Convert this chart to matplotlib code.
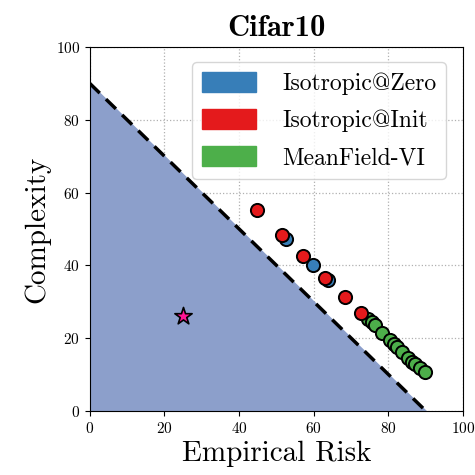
import numpy as np
import matplotlib
matplotlib.use('Agg')
import matplotlib.pyplot as plt
from matplotlib.patches import Patch

plt.rcParams['font.family'] = 'serif'
plt.rcParams['font.serif'] = ['cmr10']
plt.rcParams['mathtext.fontset'] = 'cm'
plt.rcParams['axes.formatter.use_mathtext'] = True

# data
bound = 90
zero_risk = [52.5, 59.8, 63.8]
zero_comp = [47.3, 40.1, 36.0]
init_risk = [44.8, 51.5, 57.1, 63.0, 68.4, 72.7]
init_comp = [55.2, 48.4, 42.5, 36.6, 31.2, 26.9]
mf_risk = [74.5, 75.5, 76.4, 78.3, 80.4, 81.5, 82.3, 83.6, 85.3, 86.4, 87.1, 88.5, 89.8]
mf_comp = [25.3, 24.4, 23.6, 21.5, 19.6, 18.4, 17.6, 16.3, 14.6, 13.5, 12.8, 11.7, 10.6]
star_x, star_y = 25, 26

fig = plt.figure(figsize=(4.75, 4.75), dpi=100)
ax = fig.add_axes([0.189, 0.135, 0.786, 0.766])

bx = np.array([0, bound])
by = bound - bx
ax.fill_between(bx, 0, by, color='#8c9fcb', zorder=1)
ax.plot(bx, by, 'k--', lw=2.5, dashes=(4, 2.5), zorder=2)

kw = dict(s=90, edgecolors='black', linewidths=1.4, zorder=3)
ax.scatter(zero_risk, zero_comp, c='#377eb8', **kw)
ax.scatter(mf_risk, mf_comp, c='#4daf4a', **kw)
ax.scatter(init_risk, init_comp, c='#e41a1c', **kw)
ax.scatter([star_x], [star_y], marker='*', s=170, c='#ff1493',
           edgecolors='black', linewidths=1.2, zorder=4)

ax.set_xlim(0, 100)
ax.set_ylim(0, 100)
ax.set_xticks(range(0, 101, 20))
ax.set_yticks(range(0, 101, 20))
ax.tick_params(labelsize=11)
ax.grid(True, linestyle=':', color='#b0b0b0', lw=0.9, zorder=0)
ax.set_axisbelow(True)

ax.set_xlabel('Empirical Risk', fontsize=21)
ax.set_ylabel('Complexity', fontsize=21)
ax.set_title('Cifar10', fontsize=22, family='cmb10', pad=8)

handles = [Patch(color='#377eb8', label='Isotropic@Zero'),
           Patch(color='#e41a1c', label='Isotropic@Init'),
           Patch(color='#4daf4a', label='MeanField-VI')]
ax.legend(handles=handles, loc='upper right', fontsize=17,
          handlelength=2.3, handleheight=0.9, handletextpad=1.1,
          borderpad=0.4, labelspacing=0.6, framealpha=0.8,
          bbox_to_anchor=(0.985, 0.99))

fig.savefig('out.png', dpi=100)
